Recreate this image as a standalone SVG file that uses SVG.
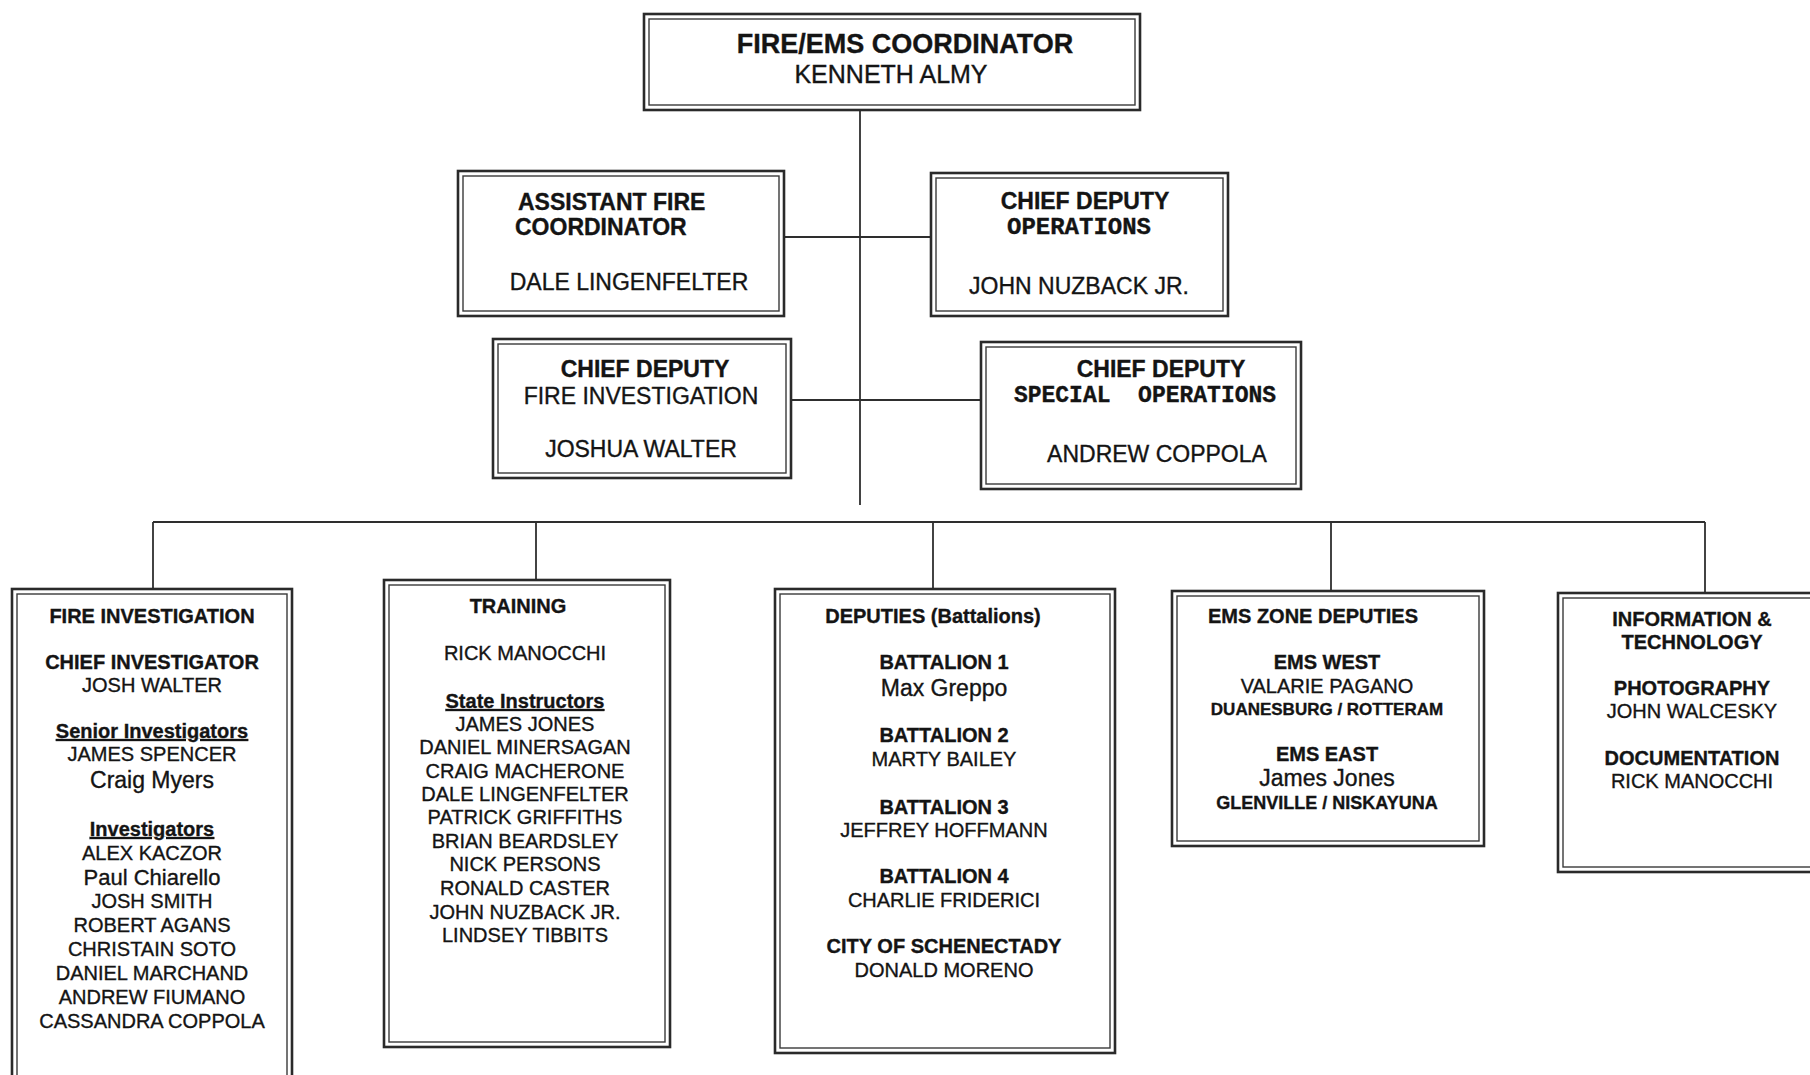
<svg xmlns="http://www.w3.org/2000/svg" width="1810" height="1075" viewBox="0 0 1810 1075">
<style>
.o{fill:#fff;stroke:#2a2a2a;stroke-width:2.6}
.i{fill:none;stroke:#3a3a3a;stroke-width:1.4}
.c{fill:none;stroke:#2e2e2e;stroke-width:1.8}
text{font-family:"Liberation Sans",Arial,sans-serif;fill:#141414;stroke:#141414;stroke-width:0.35}
.b{font-weight:bold}
.m{font-family:"Liberation Mono","Courier New",monospace;font-weight:bold}
.s20{font-size:20px}
.s23{font-size:23px}
.mid{text-anchor:middle}
.u{text-decoration:underline}
</style>
<rect width="1810" height="1075" fill="#fff"/>
<g id="connectors">
<line class="c" x1="860" y1="110" x2="860" y2="505"/>
<line class="c" x1="784" y1="237" x2="931" y2="237"/>
<line class="c" x1="791" y1="400" x2="981" y2="400"/>
<line class="c" x1="153" y1="522" x2="1705" y2="522"/>
<line class="c" x1="153" y1="522" x2="153" y2="589"/>
<line class="c" x1="536" y1="522" x2="536" y2="580"/>
<line class="c" x1="933" y1="522" x2="933" y2="589"/>
<line class="c" x1="1331" y1="522" x2="1331" y2="591"/>
<line class="c" x1="1705" y1="522" x2="1705" y2="593"/>
</g>
<g id="coordinator">
<rect class="o" x="644" y="14" width="496" height="96"/>
<rect class="i" x="649" y="19" width="486" height="86"/>
<text class="b mid" x="905" y="53" font-size="27">FIRE/EMS COORDINATOR</text>
<text class="mid" x="891" y="83" font-size="25">KENNETH ALMY</text>
</g>
<g id="assistant">
<rect class="o" x="458" y="171" width="326" height="145"/>
<rect class="i" x="463" y="176" width="316" height="135"/>
<text class="b s23" x="518" y="210">ASSISTANT FIRE</text>
<text class="b s23" x="515" y="235">COORDINATOR</text>
<text class="mid s23" x="629" y="290">DALE LINGENFELTER</text>
</g>
<g id="chief-ops">
<rect class="o" x="931" y="173" width="297" height="143"/>
<rect class="i" x="936" y="178" width="287" height="133"/>
<text class="b mid s23" x="1085" y="209">CHIEF DEPUTY</text>
<text class="m mid" x="1079" y="234" font-size="24">OPERATIONS</text>
<text class="mid s23" x="1079" y="294">JOHN NUZBACK JR.</text>
</g>
<g id="chief-fire-investigation">
<rect class="o" x="493" y="339" width="298" height="139"/>
<rect class="i" x="498" y="344" width="288" height="129"/>
<text class="b mid s23" x="645" y="377">CHIEF DEPUTY</text>
<text class="mid s23" x="641" y="404">FIRE INVESTIGATION</text>
<text class="mid s23" x="641" y="457">JOSHUA WALTER</text>
</g>
<g id="chief-special-ops">
<rect class="o" x="981" y="342" width="320" height="147"/>
<rect class="i" x="986" y="347" width="310" height="137"/>
<text class="b mid s23" x="1161" y="377">CHIEF DEPUTY</text>
<text class="m mid" x="1145" y="402" font-size="23" xml:space="preserve">SPECIAL  OPERATIONS</text>
<text class="mid s23" x="1157" y="462">ANDREW COPPOLA</text>
</g>
<g id="fire-investigation">
<rect class="o" x="12" y="589" width="280" height="500"/>
<rect class="i" x="17" y="594" width="270" height="500"/>
<text class="b mid s20" x="152" y="623">FIRE INVESTIGATION</text>
<text class="b mid s20" x="152" y="669">CHIEF INVESTIGATOR</text>
<text class="mid s20" x="152" y="692">JOSH WALTER</text>
<text class="b mid s20 u" x="152" y="738">Senior Investigators</text>
<text class="mid s20" x="152" y="761">JAMES SPENCER</text>
<text class="mid" x="152" y="788" font-size="23">Craig Myers</text>
<text class="b mid s20 u" x="152" y="836">Investigators</text>
<text class="mid s20" x="152" y="860">ALEX KACZOR</text>
<text class="mid" x="152" y="885" font-size="22">Paul Chiarello</text>
<text class="mid s20" x="152" y="908">JOSH SMITH</text>
<text class="mid s20" x="152" y="932">ROBERT AGANS</text>
<text class="mid s20" x="152" y="956">CHRISTAIN SOTO</text>
<text class="mid s20" x="152" y="980">DANIEL MARCHAND</text>
<text class="mid s20" x="152" y="1004">ANDREW FIUMANO</text>
<text class="mid s20" x="152" y="1028">CASSANDRA COPPOLA</text>
</g>
<g id="training">
<rect class="o" x="384" y="580" width="286" height="467"/>
<rect class="i" x="389" y="585" width="276" height="457"/>
<text class="b mid s20" x="518" y="613">TRAINING</text>
<text class="mid s20" x="525" y="660">RICK MANOCCHI</text>
<text class="b mid s20 u" x="525" y="708">State Instructors</text>
<text class="mid s20" x="525" y="731">JAMES JONES</text>
<text class="mid s20" x="525" y="754">DANIEL MINERSAGAN</text>
<text class="mid s20" x="525" y="778">CRAIG MACHERONE</text>
<text class="mid s20" x="525" y="801">DALE LINGENFELTER</text>
<text class="mid s20" x="525" y="824">PATRICK GRIFFITHS</text>
<text class="mid s20" x="525" y="848">BRIAN BEARDSLEY</text>
<text class="mid s20" x="525" y="871">NICK PERSONS</text>
<text class="mid s20" x="525" y="895">RONALD CASTER</text>
<text class="mid s20" x="525" y="919">JOHN NUZBACK JR.</text>
<text class="mid s20" x="525" y="942">LINDSEY TIBBITS</text>
</g>
<g id="deputies">
<rect class="o" x="775" y="589" width="340" height="464"/>
<rect class="i" x="780" y="594" width="330" height="454"/>
<text class="b mid s20" x="933" y="623">DEPUTIES (Battalions)</text>
<text class="b mid s20" x="944" y="669">BATTALION 1</text>
<text class="mid" x="944" y="696" font-size="23">Max Greppo</text>
<text class="b mid s20" x="944" y="742">BATTALION 2</text>
<text class="mid s20" x="944" y="766">MARTY BAILEY</text>
<text class="b mid s20" x="944" y="814">BATTALION 3</text>
<text class="mid s20" x="944" y="837">JEFFREY HOFFMANN</text>
<text class="b mid s20" x="944" y="883">BATTALION 4</text>
<text class="mid s20" x="944" y="907">CHARLIE FRIDERICI</text>
<text class="b mid s20" x="944" y="953">CITY OF SCHENECTADY</text>
<text class="mid s20" x="944" y="977">DONALD MORENO</text>
</g>
<g id="ems-zone">
<rect class="o" x="1172" y="591" width="312" height="255"/>
<rect class="i" x="1177" y="596" width="302" height="245"/>
<text class="b mid s20" x="1313" y="623">EMS ZONE DEPUTIES</text>
<text class="b mid s20" x="1327" y="669">EMS WEST</text>
<text class="mid s20" x="1327" y="693">VALARIE PAGANO</text>
<text class="b mid" x="1327" y="715" font-size="17">DUANESBURG / ROTTERAM</text>
<text class="b mid s20" x="1327" y="761">EMS EAST</text>
<text class="mid" x="1327" y="786" font-size="23">James Jones</text>
<text class="b mid" x="1327" y="809" font-size="18">GLENVILLE / NISKAYUNA</text>
</g>
<g id="info-tech">
<rect class="o" x="1558" y="593" width="300" height="279"/>
<rect class="i" x="1563" y="598" width="300" height="269"/>
<text class="b mid s20" x="1692" y="626">INFORMATION &amp;</text>
<text class="b mid s20" x="1692" y="649">TECHNOLOGY</text>
<text class="b mid s20" x="1692" y="695">PHOTOGRAPHY</text>
<text class="mid s20" x="1692" y="718">JOHN WALCESKY</text>
<text class="b mid s20" x="1692" y="765">DOCUMENTATION</text>
<text class="mid s20" x="1692" y="788">RICK MANOCCHI</text>
</g>
</svg>
